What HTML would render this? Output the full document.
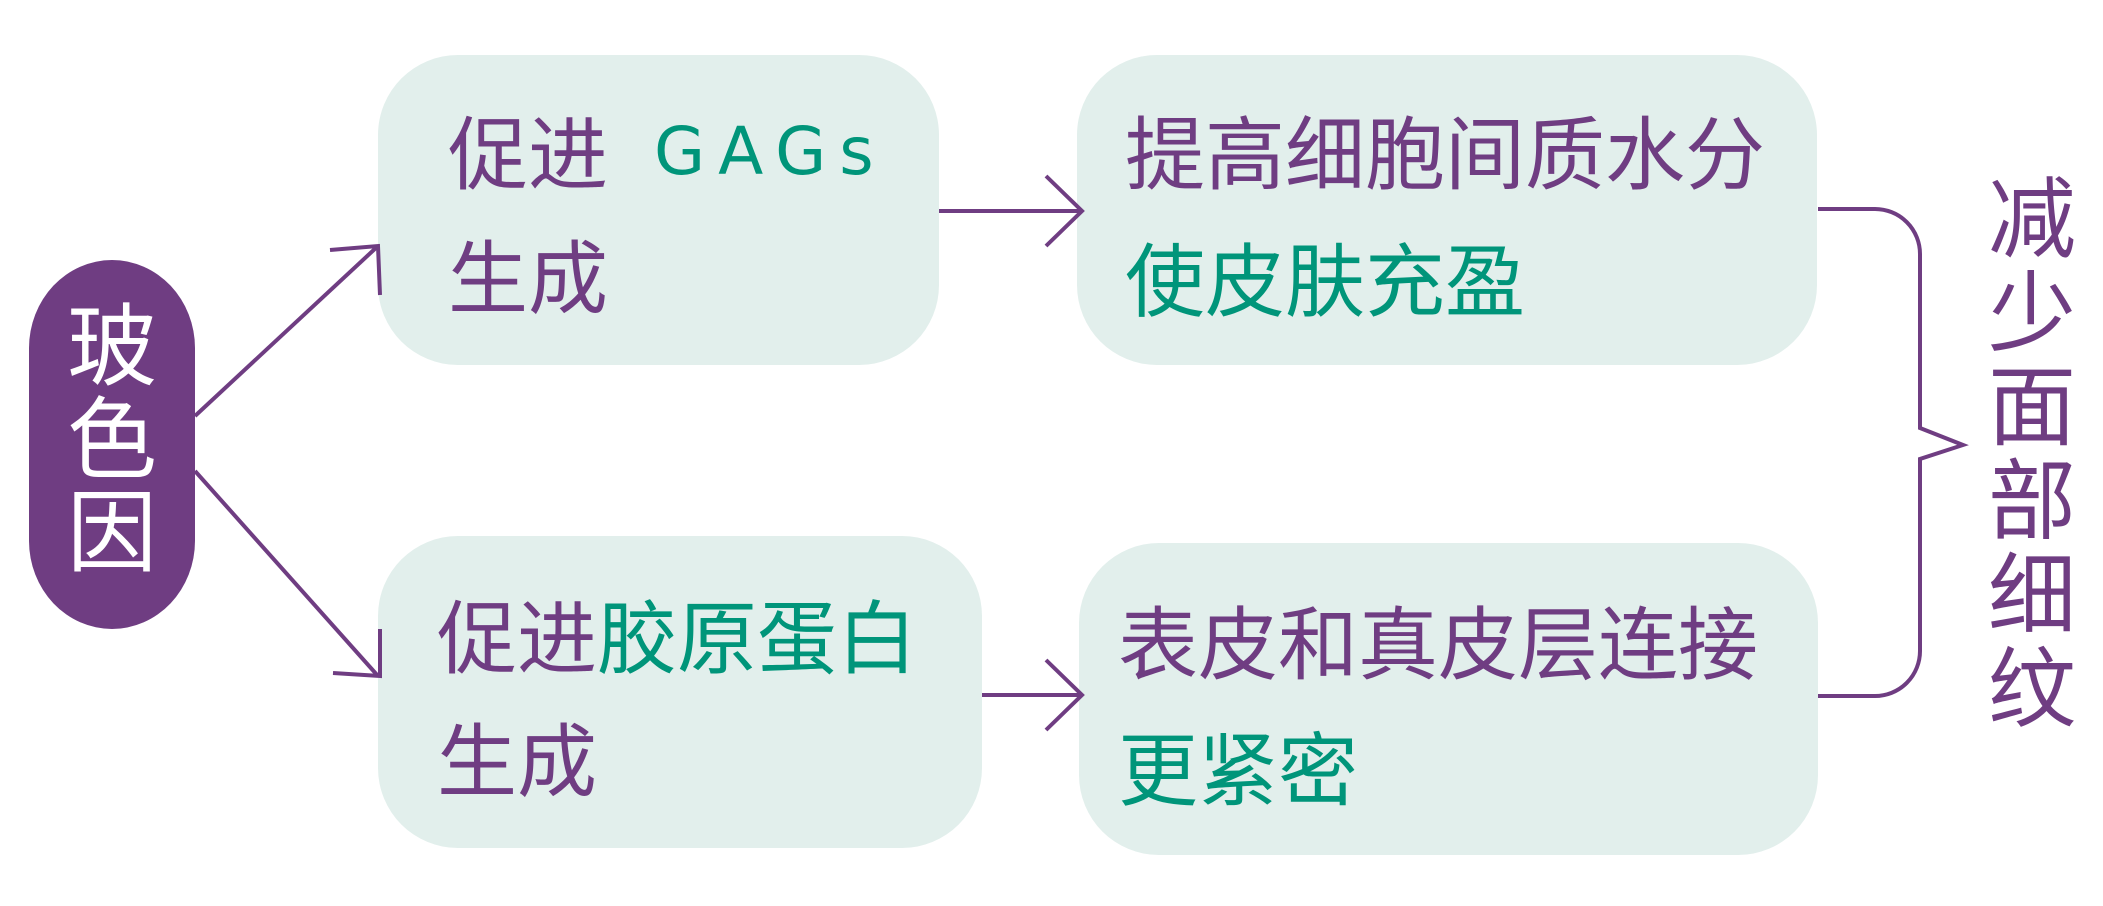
<!DOCTYPE html>
<html><head><meta charset="utf-8"><style>
html,body{margin:0;padding:0;background:#fff;}
body{width:2103px;height:906px;position:relative;overflow:hidden;font-family:"Liberation Sans","Noto Sans CJK SC",sans-serif;}
.t{position:absolute;font-size:80px;line-height:80px;white-space:nowrap;font-family:"Noto Sans CJK SC","WenQuanYi Zen Hei",sans-serif;font-weight:400;}
.p{color:#6f3d82}.g{color:#00957a}
.v{position:absolute;width:120px;text-align:center;font-family:"Noto Sans CJK SC",sans-serif;}
</style></head><body>
<svg width="2103" height="906" style="position:absolute;left:0;top:0">
<rect x="29" y="260" width="166" height="369" rx="83" ry="88" fill="#6f3d82"/>
<rect x="378" y="55" width="561" height="310" rx="80" fill="#e2efec"/>
<rect x="1077" y="55" width="740" height="310" rx="80" fill="#e2efec"/>
<rect x="378" y="536" width="604" height="312" rx="80" fill="#e2efec"/>
<rect x="1079" y="543" width="739" height="312" rx="80" fill="#e2efec"/>
<g stroke="#6f3d82" stroke-width="4" fill="none">
<line x1="195" y1="416" x2="378" y2="246"/>
<polyline points="330,250 378,246 380,295"/>
<line x1="195" y1="471" x2="378" y2="676"/>
<polyline points="380,629 380,676 333,673"/>
<line x1="939" y1="211" x2="1082" y2="211"/>
<polyline points="1046,176 1082,211 1046,246"/>
<line x1="982" y1="695" x2="1082" y2="695"/>
<polyline points="1046,660 1082,695 1046,730"/>
<path d="M1818,209 H1875 A45,45 0 0 1 1920,254 V428 L1963,445 L1920,459 V651 A45,45 0 0 1 1875,696 H1818"/>
</g>
</svg>
<div class="v" style="left:52px;top:293px;font-size:90px;line-height:93px;color:#fff">玻<br>色<br>因</div>
<div class="v" style="left:1972px;top:166px;font-size:88px;line-height:94px;color:#6f3d82">减<br>少<br>面<br>部<br>细<br>纹</div>
<div class="t p" style="left:448px;top:109px">促进</div>
<div class="t g" style="left:654px;top:112px;font-family:'DejaVu Sans','Liberation Sans',sans-serif;font-size:66px;line-height:80px;letter-spacing:13px">GAGs</div>
<div class="t p" style="left:448px;top:233px">生成</div>
<div class="t" style="left:437px;top:593px"><span class="p">促进</span><span class="g">胶原蛋白</span></div>
<div class="t p" style="left:437px;top:716px">生成</div>
<div class="t p" style="left:1125px;top:109px">提高细胞间质水分</div>
<div class="t g" style="left:1125px;top:236px">使皮肤充盈</div>
<div class="t p" style="left:1118px;top:599px">表皮和真皮层连接</div>
<div class="t g" style="left:1118px;top:725px">更紧密</div>
</body></html>
